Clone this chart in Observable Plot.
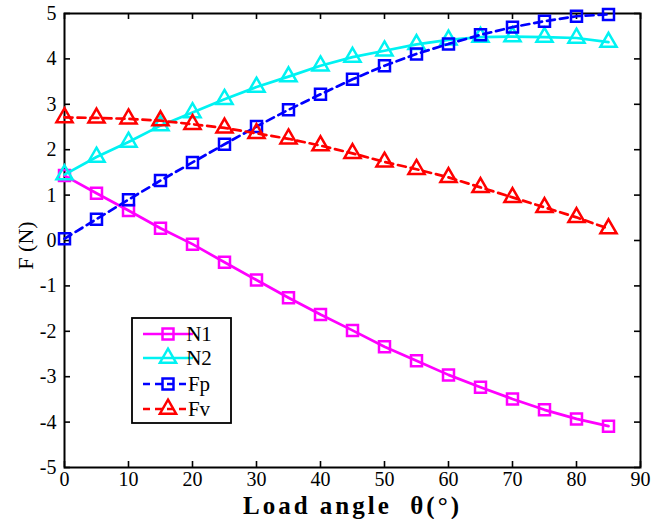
<!DOCTYPE html>
<html><head><meta charset="utf-8">
<script src="https://cdn.jsdelivr.net/npm/d3@7"></script>
<script src="https://cdn.jsdelivr.net/npm/@observablehq/plot@0.6"></script>
<style>html,body{margin:0;padding:0;background:#fff}</style>
</head><body><div id="chart"></div>
<script>
const angles = [0,5,10,15,20,25,30,35,40,45,50,55,60,65,70,75,80,85];
const n1 = [1.43,1.04,0.66,0.27,-0.08,-0.48,-0.87,-1.26,-1.63,-1.98,-2.34,-2.65,-2.96,-3.23,-3.49,-3.73,-3.93,-4.09];
const n2 = [1.45,1.84,2.17,2.53,2.82,3.11,3.38,3.61,3.85,4.04,4.18,4.32,4.42,4.48,4.49,4.48,4.46,4.37];
const fp = [0.04,0.47,0.90,1.32,1.72,2.12,2.51,2.88,3.22,3.55,3.85,4.11,4.33,4.53,4.70,4.83,4.94,4.98];
const fv = [2.71,2.70,2.68,2.64,2.56,2.48,2.36,2.24,2.09,1.92,1.73,1.57,1.39,1.17,0.95,0.73,0.51,0.26];
const seriesNames = ["N1","N2","Fp","Fv"];
const seriesColors = ["#ff00ff","#00f2f2","#0000ff","#ff0000"];
const seriesSymbols = ["square","triangle","square","triangle"];
const seriesDashed = [false,false,true,true];
const xTicks = [0,10,20,30,40,50,60,70,80,90];
const yTicks = [-5,-4,-3,-2,-1,0,1,2,3,4,5];
const xLabel = "Load angle  θ(°)";
const yLabel = "F (N)";

const SERIF = "'Liberation Serif','Times New Roman',serif";
const W = 665, H = 519;
const mL = 64, mR = 25, mT = 13, mB = 52;
const fw = W - mL - mR, fh = H - mT - mB;

const allValues = [n1,n2,fp,fv];
const marks = [];
seriesNames.forEach((name, k) => {
  const rows = angles.map((a,i)=>({angle:a, value: allValues[k][i]}));
  marks.push(Plot.line(rows, {x:"angle", y:"value", stroke: seriesColors[k], strokeWidth: 2.7,
    strokeDasharray: seriesDashed[k] ? "8,5" : null}));
  marks.push(Plot.dot(rows, {x:"angle", y:"value", symbol: seriesSymbols[k],
    r: seriesSymbols[k]==="square" ? 6.2 : 6, stroke: seriesColors[k], strokeWidth: 2.5, fill: "none"}));
});

const svg = Plot.plot({
  width: W, height: H,
  marginLeft: mL, marginRight: mR, marginTop: mT, marginBottom: mB,
  x: {domain:[0,90]},
  y: {domain:[-5,5]},
  style: {fontFamily: SERIF, fontSize: "20px", color: "black", background: "white", overflow: "visible"},
  marks: [
    Plot.axisX({ticks: xTicks, tickSize: 0, tickPadding: 4, label: null, fontSize: 20, fontFamily: SERIF, tickFormat: d=>String(d)}),
    Plot.axisY({ticks: yTicks, tickSize: 0, tickPadding: 8, label: null, fontSize: 20, fontFamily: SERIF, tickFormat: d=>String(d)}),
    Plot.ruleX(xTicks, {x: d=>d, insetTop: fh-6, stroke:"black", strokeWidth:1.6}),
    Plot.ruleX(xTicks, {x: d=>d, insetBottom: fh-6, stroke:"black", strokeWidth:1.6}),
    Plot.ruleY(yTicks, {y: d=>d, insetRight: fw-6, stroke:"black", strokeWidth:1.6}),
    Plot.ruleY(yTicks, {y: d=>d, insetLeft: fw-6, stroke:"black", strokeWidth:1.6}),
    Plot.frame({stroke:"black", strokeWidth:2}),
    ...marks,
    Plot.text([xLabel], {frameAnchor:"bottom", dy: 46, dx: 0, fontSize: 25, fontWeight: "bold", lineAnchor:"bottom", textAnchor:"middle", fontFamily: SERIF}),
    Plot.text([yLabel], {frameAnchor:"left", rotate: -90, dx: -39, dy: 5, fontSize: 22, textAnchor:"middle", lineAnchor:"middle", fontFamily: SERIF})
  ]
});

// Legend
const sel = d3.select(svg);
const lg = sel.append("g");
lg.append("rect").attr("x",132).attr("y",318).attr("width",99).attr("height",105)
  .attr("fill","white").attr("stroke","black").attr("stroke-width",1.8);
const rowY = [334,358,384,409];
seriesNames.forEach((name,k)=>{
  const y = rowY[k];
  lg.append("line").attr("x1",143).attr("x2",193).attr("y1",y).attr("y2",y)
    .attr("stroke",seriesColors[k]).attr("stroke-width",2.7)
    .attr("stroke-dasharray", seriesDashed[k] ? "7,5" : null);
  const sym = seriesSymbols[k]==="square" ? d3.symbolSquare : d3.symbolTriangle;
  const r = seriesSymbols[k]==="square" ? 6.2 : 6;
  lg.append("path").attr("d", d3.symbol(sym, Math.PI*r*r)())
    .attr("transform",`translate(168,${y})`).attr("fill","none")
    .attr("stroke",seriesColors[k]).attr("stroke-width",2.5);
  lg.append("text").attr("x",199).attr("y",y).attr("dy","0.35em").text(name)
    .style("font-family", SERIF).style("font-size","21px").attr("fill","black");
});
sel.selectAll("text").style("font-family", SERIF);
sel.selectAll("g[aria-label$='tick label'] text").style("font-size","20px");
sel.selectAll("text").filter(function(){ return this.textContent === xLabel; })
  .style("letter-spacing","3px");

document.getElementById("chart").appendChild(svg);
</script>
</body></html>
